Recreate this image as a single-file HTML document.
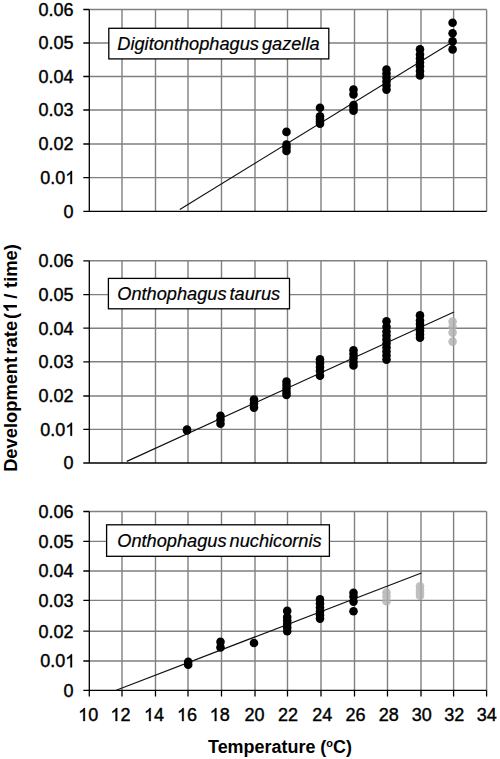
<!DOCTYPE html><html><head><meta charset="utf-8"><style>html,body{margin:0;padding:0;background:#fff;width:500px;height:759px;overflow:hidden}svg{display:block}text{font-family:"Liberation Sans",sans-serif}.h1{fill-opacity:0;stroke-opacity:0}</style></head><body>
<svg width="500" height="759" viewBox="0 0 500 759">
<rect width="500" height="759" fill="#fff"/>
<path d="M89.30 9.50H486.60 M89.30 43.00H486.60 M89.30 76.50H486.60 M89.30 110.00H486.60 M89.30 144.00H486.60 M89.30 177.60H486.60 M122.00 9.50V211.40 M155.50 9.50V211.40 M188.00 9.50V211.40 M221.50 9.50V211.40 M255.00 9.50V211.40 M287.50 9.50V211.40 M321.00 9.50V211.40 M354.50 9.50V211.40 M387.50 9.50V211.40 M421.00 9.50V211.40 M453.60 9.50V211.40 M486.60 9.50V211.40" stroke="#808080" stroke-width="1.4" fill="none"/>
<path d="M89.30 9.50V211.40 M83.30 211.40H486.60 M83.30 9.50H89.30 M83.30 43.00H89.30 M83.30 76.50H89.30 M83.30 110.00H89.30 M83.30 144.00H89.30 M83.30 177.60H89.30" stroke="#000" stroke-width="1.3" fill="none"/>
<text id="t0" x="73.5" y="15.80" font-size="18" text-anchor="end" stroke="#000" stroke-width="0.4">0.06</text>
<text id="t1" x="73.5" y="49.30" font-size="18" text-anchor="end" stroke="#000" stroke-width="0.4">0.05</text>
<text id="t2" x="73.5" y="82.80" font-size="18" text-anchor="end" stroke="#000" stroke-width="0.4">0.04</text>
<text id="t3" x="73.5" y="116.30" font-size="18" text-anchor="end" stroke="#000" stroke-width="0.4">0.03</text>
<text id="t4" x="73.5" y="150.30" font-size="18" text-anchor="end" stroke="#000" stroke-width="0.4">0.02</text>
<text id="t5" x="75.3" y="183.90" font-size="18" text-anchor="end" stroke="#000" stroke-width="0.4">0.0<tspan class="h1">1</tspan></text><path d="M763 0H583V1147Q518 1085 412.5 1023Q307 961 223 930V1104Q374 1175 487 1276Q600 1377 647 1472H763Z" transform="translate(65.284,183.900) scale(0.008789,-0.008789)" fill="#000" stroke="#000" stroke-width="45.51"/>
<text id="t6" x="73.5" y="217.70" font-size="18" text-anchor="end" stroke="#000" stroke-width="0.4">0</text>
<path d="M179.8 209.4L454 41.0" stroke="#111" stroke-width="1.2" fill="none"/>
<rect x="108.8" y="28.3" width="220.0" height="30.6" fill="#fff" stroke="#000" stroke-width="1.3"/>
<text id="t7" x="117.3" y="50.1" font-size="18.2" font-style="italic" word-spacing="-2" stroke="#000" stroke-width="0.2">Digitonthophagus gazella</text>
<path d="M89.30 260.80H486.60 M89.30 294.60H486.60 M89.30 328.20H486.60 M89.30 361.80H486.60 M89.30 396.00H486.60 M89.30 429.40H486.60 M122.00 260.80V463.00 M155.50 260.80V463.00 M188.00 260.80V463.00 M221.50 260.80V463.00 M255.00 260.80V463.00 M287.50 260.80V463.00 M321.00 260.80V463.00 M354.50 260.80V463.00 M387.50 260.80V463.00 M421.00 260.80V463.00 M453.60 260.80V463.00 M486.60 260.80V463.00" stroke="#808080" stroke-width="1.4" fill="none"/>
<path d="M89.30 260.80V463.00 M83.30 463.00H486.60 M83.30 260.80H89.30 M83.30 294.60H89.30 M83.30 328.20H89.30 M83.30 361.80H89.30 M83.30 396.00H89.30 M83.30 429.40H89.30" stroke="#000" stroke-width="1.3" fill="none"/>
<text id="t8" x="73.5" y="267.10" font-size="18" text-anchor="end" stroke="#000" stroke-width="0.4">0.06</text>
<text id="t9" x="73.5" y="300.90" font-size="18" text-anchor="end" stroke="#000" stroke-width="0.4">0.05</text>
<text id="t10" x="73.5" y="334.50" font-size="18" text-anchor="end" stroke="#000" stroke-width="0.4">0.04</text>
<text id="t11" x="73.5" y="368.10" font-size="18" text-anchor="end" stroke="#000" stroke-width="0.4">0.03</text>
<text id="t12" x="73.5" y="402.30" font-size="18" text-anchor="end" stroke="#000" stroke-width="0.4">0.02</text>
<text id="t13" x="75.3" y="435.70" font-size="18" text-anchor="end" stroke="#000" stroke-width="0.4">0.0<tspan class="h1">1</tspan></text><path d="M763 0H583V1147Q518 1085 412.5 1023Q307 961 223 930V1104Q374 1175 487 1276Q600 1377 647 1472H763Z" transform="translate(65.284,435.700) scale(0.008789,-0.008789)" fill="#000" stroke="#000" stroke-width="45.51"/>
<text id="t14" x="73.5" y="469.30" font-size="18" text-anchor="end" stroke="#000" stroke-width="0.4">0</text>
<path d="M126.8 461.4L454 312" stroke="#111" stroke-width="1.2" fill="none"/>
<rect x="108.4" y="278.4" width="181.1" height="30.4" fill="#fff" stroke="#000" stroke-width="1.3"/>
<text id="t15" x="117.3" y="300.1" font-size="18.2" font-style="italic" word-spacing="-2" stroke="#000" stroke-width="0.2">Onthophagus taurus</text>
<path d="M89.30 511.50H486.60 M89.30 541.40H486.60 M89.30 571.00H486.60 M89.30 600.40H486.60 M89.30 631.20H486.60 M89.30 661.00H486.60 M122.00 511.50V690.40 M155.50 511.50V690.40 M188.00 511.50V690.40 M221.50 511.50V690.40 M255.00 511.50V690.40 M287.50 511.50V690.40 M321.00 511.50V690.40 M354.50 511.50V690.40 M387.50 511.50V690.40 M421.00 511.50V690.40 M453.60 511.50V690.40 M486.60 511.50V690.40" stroke="#808080" stroke-width="1.4" fill="none"/>
<path d="M89.30 511.50V690.40 M83.30 690.40H486.60 M83.30 511.50H89.30 M83.30 541.40H89.30 M83.30 571.00H89.30 M83.30 600.40H89.30 M83.30 631.20H89.30 M83.30 661.00H89.30 M89.30 690.40V696.40 M122.00 690.40V696.40 M155.50 690.40V696.40 M188.00 690.40V696.40 M221.50 690.40V696.40 M255.00 690.40V696.40 M287.50 690.40V696.40 M321.00 690.40V696.40 M354.50 690.40V696.40 M387.50 690.40V696.40 M421.00 690.40V696.40 M453.60 690.40V696.40 M486.60 690.40V696.40" stroke="#000" stroke-width="1.3" fill="none"/>
<text id="t16" x="73.5" y="517.80" font-size="18" text-anchor="end" stroke="#000" stroke-width="0.4">0.06</text>
<text id="t17" x="73.5" y="547.70" font-size="18" text-anchor="end" stroke="#000" stroke-width="0.4">0.05</text>
<text id="t18" x="73.5" y="577.30" font-size="18" text-anchor="end" stroke="#000" stroke-width="0.4">0.04</text>
<text id="t19" x="73.5" y="606.70" font-size="18" text-anchor="end" stroke="#000" stroke-width="0.4">0.03</text>
<text id="t20" x="73.5" y="637.50" font-size="18" text-anchor="end" stroke="#000" stroke-width="0.4">0.02</text>
<text id="t21" x="75.3" y="667.30" font-size="18" text-anchor="end" stroke="#000" stroke-width="0.4">0.0<tspan class="h1">1</tspan></text><path d="M763 0H583V1147Q518 1085 412.5 1023Q307 961 223 930V1104Q374 1175 487 1276Q600 1377 647 1472H763Z" transform="translate(65.284,667.300) scale(0.008789,-0.008789)" fill="#000" stroke="#000" stroke-width="45.51"/>
<text id="t22" x="73.5" y="696.70" font-size="18" text-anchor="end" stroke="#000" stroke-width="0.4">0</text>
<path d="M116.2 690.2L421.4 573" stroke="#111" stroke-width="1.2" fill="none"/>
<rect x="106.6" y="524.8" width="222.8" height="31.5" fill="#fff" stroke="#000" stroke-width="1.3"/>
<text id="t23" x="117.3" y="547.0" font-size="18.2" font-style="italic" word-spacing="-2" stroke="#000" stroke-width="0.2">Onthophagus nuchicornis</text>
<g fill="#000">
<circle cx="286.50" cy="131.9" r="4.3"/>
<circle cx="286.50" cy="144.5" r="4.3"/>
<circle cx="286.50" cy="147.5" r="4.3"/>
<circle cx="286.50" cy="151" r="4.3"/>
<circle cx="320.00" cy="107.8" r="4.3"/>
<circle cx="320.00" cy="116.2" r="4.3"/>
<circle cx="320.00" cy="119" r="4.3"/>
<circle cx="320.00" cy="121.5" r="4.3"/>
<circle cx="320.00" cy="123.8" r="4.3"/>
<circle cx="353.50" cy="89.6" r="4.3"/>
<circle cx="353.50" cy="94.4" r="4.3"/>
<circle cx="353.50" cy="105" r="4.3"/>
<circle cx="353.50" cy="108" r="4.3"/>
<circle cx="353.50" cy="110.8" r="4.3"/>
<circle cx="386.50" cy="69.5" r="4.3"/>
<circle cx="386.50" cy="73.5" r="4.3"/>
<circle cx="386.50" cy="77.5" r="4.3"/>
<circle cx="386.50" cy="81.5" r="4.3"/>
<circle cx="386.50" cy="85.5" r="4.3"/>
<circle cx="386.50" cy="89.6" r="4.3"/>
<circle cx="420.00" cy="49.4" r="4.3"/>
<circle cx="420.00" cy="54.5" r="4.3"/>
<circle cx="420.00" cy="58.5" r="4.3"/>
<circle cx="420.00" cy="62.5" r="4.3"/>
<circle cx="420.00" cy="66.5" r="4.3"/>
<circle cx="420.00" cy="71" r="4.3"/>
<circle cx="420.00" cy="75.4" r="4.3"/>
<circle cx="452.60" cy="22.7" r="4.3"/>
<circle cx="452.60" cy="33.3" r="4.3"/>
<circle cx="452.60" cy="41.4" r="4.3"/>
<circle cx="452.60" cy="49.4" r="4.3"/>
<circle cx="187.00" cy="429.5" r="4.3"/>
<circle cx="187.00" cy="430.5" r="4.3"/>
<circle cx="220.50" cy="415.8" r="4.3"/>
<circle cx="220.50" cy="419.8" r="4.3"/>
<circle cx="220.50" cy="423.8" r="4.3"/>
<circle cx="254.00" cy="399.6" r="4.3"/>
<circle cx="254.00" cy="403.6" r="4.3"/>
<circle cx="254.00" cy="407.6" r="4.3"/>
<circle cx="286.50" cy="381.6" r="4.3"/>
<circle cx="286.50" cy="385" r="4.3"/>
<circle cx="286.50" cy="388.5" r="4.3"/>
<circle cx="286.50" cy="392" r="4.3"/>
<circle cx="286.50" cy="395" r="4.3"/>
<circle cx="320.00" cy="359.4" r="4.3"/>
<circle cx="320.00" cy="363" r="4.3"/>
<circle cx="320.00" cy="367" r="4.3"/>
<circle cx="320.00" cy="371" r="4.3"/>
<circle cx="320.00" cy="375.8" r="4.3"/>
<circle cx="353.50" cy="350.2" r="4.3"/>
<circle cx="353.50" cy="354" r="4.3"/>
<circle cx="353.50" cy="358" r="4.3"/>
<circle cx="353.50" cy="362" r="4.3"/>
<circle cx="353.50" cy="365.4" r="4.3"/>
<circle cx="386.50" cy="321.2" r="4.3"/>
<circle cx="386.50" cy="326.8" r="4.3"/>
<circle cx="386.50" cy="331.5" r="4.3"/>
<circle cx="386.50" cy="335.5" r="4.3"/>
<circle cx="386.50" cy="339.5" r="4.3"/>
<circle cx="386.50" cy="343.5" r="4.3"/>
<circle cx="386.50" cy="347.5" r="4.3"/>
<circle cx="386.50" cy="351.5" r="4.3"/>
<circle cx="386.50" cy="355.5" r="4.3"/>
<circle cx="386.50" cy="359.6" r="4.3"/>
<circle cx="420.00" cy="315.4" r="4.3"/>
<circle cx="420.00" cy="320.5" r="4.3"/>
<circle cx="420.00" cy="324" r="4.3"/>
<circle cx="420.00" cy="328" r="4.3"/>
<circle cx="420.00" cy="331" r="4.3"/>
<circle cx="420.00" cy="334.5" r="4.3"/>
<circle cx="420.00" cy="337.8" r="4.3"/>
<circle cx="188.20" cy="661.8" r="4.3"/>
<circle cx="188.20" cy="664.8" r="4.3"/>
<circle cx="220.50" cy="641.8" r="4.3"/>
<circle cx="220.50" cy="647.4" r="4.3"/>
<circle cx="254.00" cy="643" r="4.3"/>
<circle cx="287.20" cy="610.9" r="4.3"/>
<circle cx="287.20" cy="617" r="4.3"/>
<circle cx="287.20" cy="620.5" r="4.3"/>
<circle cx="287.20" cy="624" r="4.3"/>
<circle cx="287.20" cy="627.5" r="4.3"/>
<circle cx="287.20" cy="631.3" r="4.3"/>
<circle cx="320.00" cy="599.4" r="4.3"/>
<circle cx="320.00" cy="603.5" r="4.3"/>
<circle cx="320.00" cy="607.5" r="4.3"/>
<circle cx="320.00" cy="611.5" r="4.3"/>
<circle cx="320.00" cy="615" r="4.3"/>
<circle cx="320.00" cy="618.6" r="4.3"/>
<circle cx="353.50" cy="592.8" r="4.3"/>
<circle cx="353.50" cy="596.5" r="4.3"/>
<circle cx="353.50" cy="601.6" r="4.3"/>
<circle cx="353.50" cy="611.2" r="4.3"/>
</g><g fill="#b0b0b0" opacity="0.8">
<circle cx="452.60" cy="321.6" r="4.3"/>
<circle cx="452.60" cy="327" r="4.3"/>
<circle cx="452.60" cy="332.6" r="4.3"/>
<circle cx="452.60" cy="341.6" r="4.3"/>
<circle cx="386.50" cy="592.6" r="4.3"/>
<circle cx="386.50" cy="596.6" r="4.3"/>
<circle cx="386.50" cy="601.2" r="4.3"/>
<circle cx="420.00" cy="586.2" r="4.3"/>
<circle cx="420.00" cy="590" r="4.3"/>
<circle cx="420.00" cy="593" r="4.3"/>
<circle cx="420.00" cy="595.8" r="4.3"/>
</g>
<text id="t24" x="88.20" y="721" font-size="18" text-anchor="middle" stroke="#000" stroke-width="0.4"><tspan class="h1">1</tspan>0</text><path d="M763 0H583V1147Q518 1085 412.5 1023Q307 961 223 930V1104Q374 1175 487 1276Q600 1377 647 1472H763Z" transform="translate(78.184,721.000) scale(0.008789,-0.008789)" fill="#000" stroke="#000" stroke-width="45.51"/>
<text id="t25" x="120.50" y="721" font-size="18" text-anchor="middle" stroke="#000" stroke-width="0.4"><tspan class="h1">1</tspan>2</text><path d="M763 0H583V1147Q518 1085 412.5 1023Q307 961 223 930V1104Q374 1175 487 1276Q600 1377 647 1472H763Z" transform="translate(110.484,721.000) scale(0.008789,-0.008789)" fill="#000" stroke="#000" stroke-width="45.51"/>
<text id="t26" x="154.00" y="721" font-size="18" text-anchor="middle" stroke="#000" stroke-width="0.4"><tspan class="h1">1</tspan>4</text><path d="M763 0H583V1147Q518 1085 412.5 1023Q307 961 223 930V1104Q374 1175 487 1276Q600 1377 647 1472H763Z" transform="translate(143.984,721.000) scale(0.008789,-0.008789)" fill="#000" stroke="#000" stroke-width="45.51"/>
<text id="t27" x="187.00" y="721" font-size="18" text-anchor="middle" stroke="#000" stroke-width="0.4"><tspan class="h1">1</tspan>6</text><path d="M763 0H583V1147Q518 1085 412.5 1023Q307 961 223 930V1104Q374 1175 487 1276Q600 1377 647 1472H763Z" transform="translate(176.984,721.000) scale(0.008789,-0.008789)" fill="#000" stroke="#000" stroke-width="45.51"/>
<text id="t28" x="219.70" y="721" font-size="18" text-anchor="middle" stroke="#000" stroke-width="0.4"><tspan class="h1">1</tspan>8</text><path d="M763 0H583V1147Q518 1085 412.5 1023Q307 961 223 930V1104Q374 1175 487 1276Q600 1377 647 1472H763Z" transform="translate(209.684,721.000) scale(0.008789,-0.008789)" fill="#000" stroke="#000" stroke-width="45.51"/>
<text id="t29" x="254.60" y="721" font-size="18" text-anchor="middle" stroke="#000" stroke-width="0.4">20</text>
<text id="t30" x="288.00" y="721" font-size="18" text-anchor="middle" stroke="#000" stroke-width="0.4">22</text>
<text id="t31" x="322.20" y="721" font-size="18" text-anchor="middle" stroke="#000" stroke-width="0.4">24</text>
<text id="t32" x="355.40" y="721" font-size="18" text-anchor="middle" stroke="#000" stroke-width="0.4">26</text>
<text id="t33" x="388.80" y="721" font-size="18" text-anchor="middle" stroke="#000" stroke-width="0.4">28</text>
<text id="t34" x="421.70" y="721" font-size="18" text-anchor="middle" stroke="#000" stroke-width="0.4">30</text>
<text id="t35" x="454.30" y="721" font-size="18" text-anchor="middle" stroke="#000" stroke-width="0.4">32</text>
<text id="t36" x="486.70" y="721" font-size="18" text-anchor="middle" stroke="#000" stroke-width="0.4">34</text>
<text transform="translate(280,752.5) scale(0.955,1)" font-size="18.8" font-weight="bold" text-anchor="middle">Temperature (<tspan dy="-5.6" font-size="11.5">o</tspan><tspan dy="5.6">C)</tspan></text>
<g transform="translate(16.9,471.85) rotate(-90) scale(0.975,1)"><text id="t37" x="0" y="0" font-size="18.8" font-weight="bold" word-spacing="-3.1">Development<tspan dx="0.3"> rate</tspan><tspan dx="-0.2"> (<tspan class="h1">1</tspan></tspan><tspan dx="1.9"> /</tspan><tspan dx="3.8"> time)</tspan></text><path d="M889 0H608V1059Q454 915 245 846V1101Q355 1137 484 1237Q613 1338 661 1472H889Z" transform="translate(162.998,0.000) scale(0.009180,-0.009180)" fill="#000" stroke="#000" stroke-width="0.00"/></g>
</svg></body></html>
